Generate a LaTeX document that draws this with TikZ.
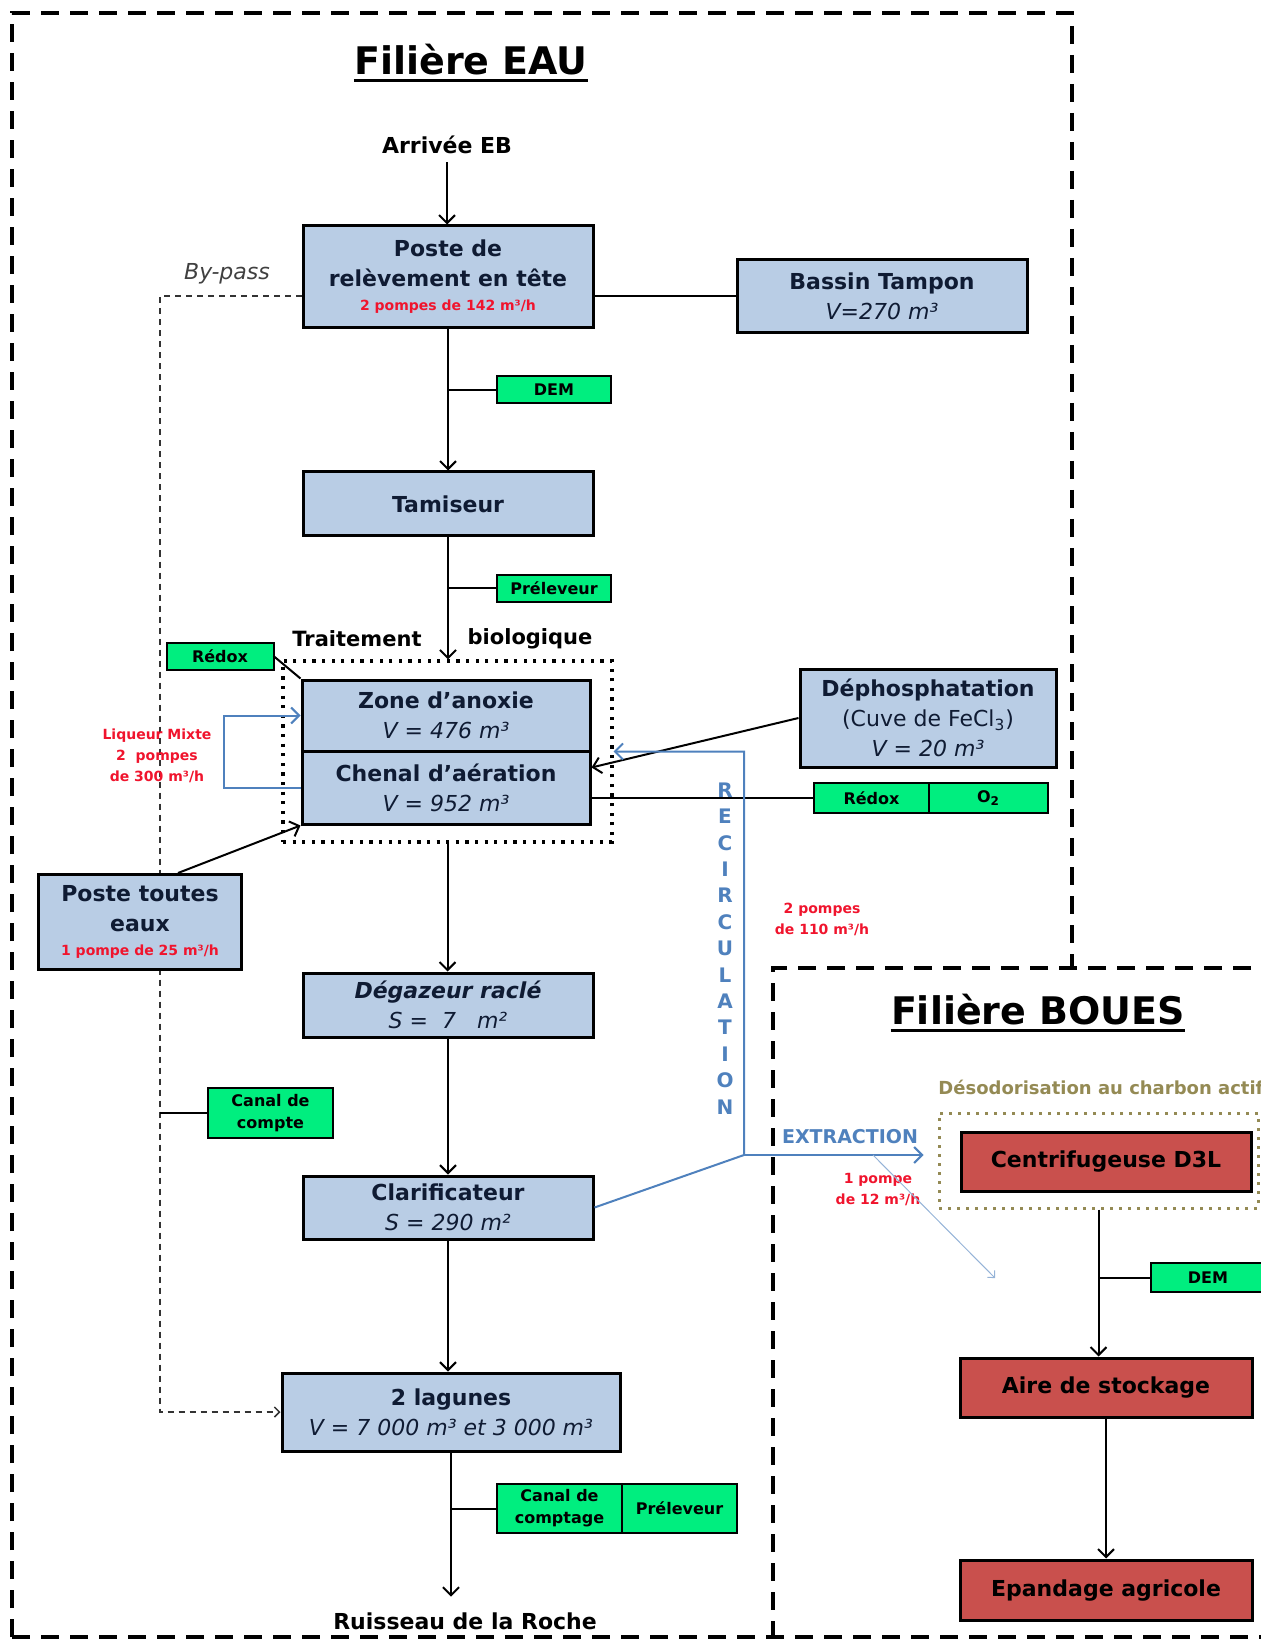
\documentclass[tikz,border=0pt]{standalone}
\usepackage{fontspec}
\setmainfont{DejaVu Sans}
\usetikzlibrary{positioning,backgrounds,arrows.meta}

\definecolor{eaufill}{HTML}{B9CDE5}
\definecolor{eauink}{HTML}{0F1B33}
\definecolor{bouesfill}{HTML}{C9504D}
\definecolor{tagfill}{HTML}{00EE7F}
\definecolor{recircblue}{HTML}{4F81BD}
\definecolor{strayblue}{HTML}{95B3D7}
\definecolor{olivetext}{HTML}{948A54}
\definecolor{pumpred}{HTML}{F0142D}

\newcommand{\boxfont}{\fontsize{11}{15}\selectfont\bfseries}
\newcommand{\tagfont}{\fontsize{8}{11}\selectfont\bfseries}
\newcommand{\pumpfont}{\fontsize{7}{10.5}\selectfont\bfseries}
\newcommand{\titlefont}{\fontsize{19}{22}\selectfont\bfseries}

\begin{document}
\begin{tikzpicture}
[every node/.style={inner sep=0pt},
 >={Straight Barb[length=4pt, width=8pt]},
 eaubox/.style={draw=black, line width=1.5pt, fill=eaufill, text=eauink, align=center, font=\boxfont, minimum width=145pt},
 bouesbox/.style={draw=black, line width=1.5pt, fill=bouesfill, text=black, font=\boxfont, minimum width=146pt, minimum height=29.5pt},
 tagbox/.style={draw=black, line width=1pt, fill=tagfill, text=black, align=center, font=\tagfont, minimum height=13.5pt, outer sep=0pt},
 flowarrow/.style={line width=1pt, ->},
 tagline/.style={line width=1pt},
 recircline/.style={line width=1pt, color=recircblue},
 strayline/.style={line width=0.5pt, color=strayblue, -{Straight Barb[length=2.5pt, width=5pt]}},
 bypassline/.style={line width=0.75pt, color=black!80, dash pattern=on 3pt off 2.5pt, -{Straight Barb[length=2.5pt, width=5pt]}},
 filiereframe/.style={line width=2pt, dash pattern=on 9pt off 5.5pt},
 titlerule/.style={line width=1.5pt},
 pumpnote/.style={align=center, font=\pumpfont, text=pumpred},
 recircletter/.style={font=\fontsize{10}{12}\selectfont\bfseries, text=recircblue}]
\useasboundingbox (0pt,0pt) rectangle (630.5pt,-820.5pt);
\clip (0pt,0pt) rectangle (630.5pt,-820.5pt);

% cadres des deux filieres
\draw [filiereframe] (6pt,-818.5pt) -- (6pt,-6.5pt) -- (536pt,-6.5pt) -- (536pt,-484pt);
\draw [filiereframe] (640pt,-484pt) -- (386.5pt,-484pt) -- (386.5pt,-818.5pt);
\draw [filiereframe] (6pt,-818.5pt) -- (640pt,-818.5pt);

% filiere eau
\node (titleeau) [font=\titlefont] at (235.5pt,-30pt) {Filière EAU};
\draw [titlerule] ([yshift=-3pt]titleeau.base west) -- ([yshift=-3pt]titleeau.base east);
\node (arrivee) [font=\boxfont, inner sep=4pt] at (223.5pt,-72.5pt) {Arrivée EB};
\node (poste) [eaubox, minimum height=51pt] at (224pt,-138.5pt) {Poste de\\relèvement en tête\\[-3pt]{\pumpfont\color{pumpred}2 pompes de 142 m³/h}};
\node (bassin) [eaubox, minimum height=36.5pt] at (441pt,-148pt) {Bassin Tampon\\{\mdseries\itshape V=270 m³}};
\node (dem) [tagbox, minimum width=57pt] at (277pt,-195pt) {DEM};
\node (tamiseur) [eaubox, minimum height=32pt] at (224pt,-252pt) {Tamiseur};
\node (preleveur) [tagbox, minimum width=57pt] at (277pt,-294pt) {Préleveur};
\node (traitement) [font=\fontsize{10.5}{12}\selectfont\bfseries] at (178.5pt,-319.5pt) {Traitement};
\node (biologique) [font=\fontsize{10.5}{12}\selectfont\bfseries] at (265pt,-319.5pt) {biologique};
\node (bio) [draw, line width=1.6pt, dash pattern=on 1.6pt off 3.2pt, minimum width=164.5pt, minimum height=90.5pt] at (223.75pt,-375.75pt) {};
\node (redoxbio) [tagbox, minimum width=53.5pt] at (110pt,-328pt) {Rédox};
\node (anoxie) [eaubox, minimum width=144pt, minimum height=35.5pt] at (223pt,-357.75pt) {Zone d’anoxie\\{\mdseries\itshape V = 476 m³}};
\node (chenal) [eaubox, minimum width=144pt, minimum height=36.5pt] at (223pt,-393.75pt) {Chenal d’aération\\{\mdseries\itshape V = 952 m³}};
\node (liqueur) [pumpnote] at (78.5pt,-378pt) {Liqueur Mixte\\2~~pompes\\de 300 m³/h};
\node (dephos) [eaubox, minimum width=128pt, minimum height=49pt] at (464pt,-359pt) {Déphosphatation\\{\mdseries (Cuve de FeCl\textsubscript{3})}\\{\mdseries\itshape V = 20 m³}};
\node (redoxaer) [tagbox, minimum width=57.5pt, minimum height=15pt] at (435.75pt,-399pt) {Rédox};
\node (oxygen) [tagbox, minimum width=59.5pt, minimum height=15pt, right=0pt of redoxaer] {O\textsubscript{2}};
\node (ptoutes) [eaubox, minimum width=101.5pt, minimum height=47.5pt] at (70pt,-461pt) {Poste toutes\\eaux\\[-3pt]{\pumpfont\color{pumpred}1 pompe de 25 m³/h}};
\node (degazeur) [eaubox, minimum height=32pt] at (224pt,-502.5pt) {{\itshape Dégazeur raclé}\\{\mdseries\itshape S =~~7~~~m²}};
\node (canalcompte) [tagbox, minimum width=62.5pt, minimum height=25pt] at (135.25pt,-556.5pt) {Canal de\\compte};
\node (clarif) [eaubox, minimum height=31.5pt] at (224pt,-603.75pt) {Clarificateur\\{\mdseries\itshape S = 290 m²}};
\node (lagunes) [eaubox, minimum width=169pt, minimum height=39pt] at (225.5pt,-706pt) {2 lagunes\\{\mdseries\itshape V = 7 000 m³ et 3 000 m³}};
\node (canalcomptage) [tagbox, minimum width=62.5pt, minimum height=24.5pt] at (279.75pt,-754.25pt) {Canal de\\comptage};
\node (preleveurlag) [tagbox, minimum width=57.5pt, minimum height=24.5pt, right=0pt of canalcomptage] {Préleveur};
\node (ruisseau) [font=\boxfont] at (232.5pt,-810.75pt) {Ruisseau de la Roche};
\node (bypasslabel) [font=\fontsize{11}{13}\selectfont\itshape, text=black!75] at (113.5pt,-137pt) {By-pass};
\node (pompesrecirc) [pumpnote] at (411pt,-459.5pt) {2 pompes\\de 110 m³/h};
\node (extraction) [font=\fontsize{9.5}{11}\selectfont\bfseries, text=recircblue] at (425pt,-568.5pt) {EXTRACTION};
\node (pompeextr) [pumpnote] at (439pt,-595pt) {1 pompe\\de 12 m³/h};
\foreach \letter [count=\i] in {R,E,C,I,R,C,U,L,A,T,I,O,N}
  \node (recirc\i) [recircletter] at (362.5pt,{-395pt-(\i-1)*13.2pt}) {\letter};

% filiere boues
\node (titleboues) [font=\titlefont] at (519pt,-505pt) {Filière BOUES};
\draw [titlerule] ([yshift=-3pt]titleboues.base west) -- ([yshift=-3pt]titleboues.base east);
\node (desodolabel) [anchor=west, font=\fontsize{9}{11}\selectfont\bfseries, text=olivetext] at (469pt,-543.5pt) {Désodorisation au charbon actif};
\node (desodo) [draw=olivetext, line width=1.5pt, dash pattern=on 1.5pt off 3pt, minimum width=159.5pt, minimum height=47.5pt] at (549.25pt,-580.25pt) {};
\node (centrif) [bouesbox, minimum width=145pt] at (553pt,-580.75pt) {Centrifugeuse D3L};
\node (demboues) [tagbox, minimum width=57pt, minimum height=14.5pt] at (604pt,-638.75pt) {DEM};
\node (aire) [bouesbox] at (553pt,-693.75pt) {Aire de stockage};
\node (epandage) [bouesbox, minimum height=30pt] at (553pt,-795pt) {Epandage agricole};

\coordinate (bypass) at (80pt,-148pt);
\coordinate (recircturn) at (372pt,-577.5pt);
\coordinate (straystart) at (436.5pt,-577.5pt);
\coordinate (strayend) at (497.5pt,-639pt);

% liaisons
\begin{scope}[on background layer]
\draw [bypassline] (poste.west |- bypass) -- (bypass) |- (lagunes.west);
\end{scope}
\draw [tagline] (canalcompte.west) -- (canalcompte.west -| bypass);
\draw [flowarrow] (arrivee.south) -- (arrivee.south |- poste.north);
\draw [tagline] (bassin.west) -- (bassin.west -| poste.east);
\draw [flowarrow] (poste) -- (tamiseur);
\draw [tagline] (dem.west) -- (dem.west -| poste.south);
\draw [flowarrow] (tamiseur.south) -- (tamiseur.south |- bio.north);
\draw [tagline] (preleveur.west) -- (preleveur.west -| tamiseur.south);
\draw [tagline] (redoxbio.east) -- (anoxie.north west);
\draw [recircline, ->] (chenal.west) -- ++(-38.5pt,0) |- (anoxie.west);
\draw [flowarrow] (dephos.west) -- ([yshift=10pt]chenal.east);
\draw [tagline] (redoxaer.west) -- (redoxaer.west -| chenal.east);
\draw [flowarrow] ([xshift=19pt]ptoutes.north) -- (chenal.south west);
\draw [flowarrow] (bio.south) -- (bio.south |- degazeur.north);
\draw [flowarrow] (degazeur) -- (clarif);
\draw [flowarrow] (clarif.south) -- (clarif.south |- lagunes.north);
\draw [tagline] (canalcomptage.west) -- (canalcomptage.west -| lagunes.south);
\draw [flowarrow, shorten >=8pt] (lagunes.south) -- (lagunes.south |- ruisseau.north);
\draw [recircline, ->] (clarif.east) -- (recircturn) |- (bio.east);
\draw [recircline, ->, shorten >=7pt] (recircturn) -- (recircturn -| desodo.west);
\draw [strayline] (straystart) -- (strayend);
\draw [flowarrow] (desodo.south) -- (desodo.south |- aire.north);
\draw [tagline] (demboues.west) -- (demboues.west -| desodo.south);
\draw [flowarrow] (aire) -- (epandage);
\end{tikzpicture}
\end{document}
